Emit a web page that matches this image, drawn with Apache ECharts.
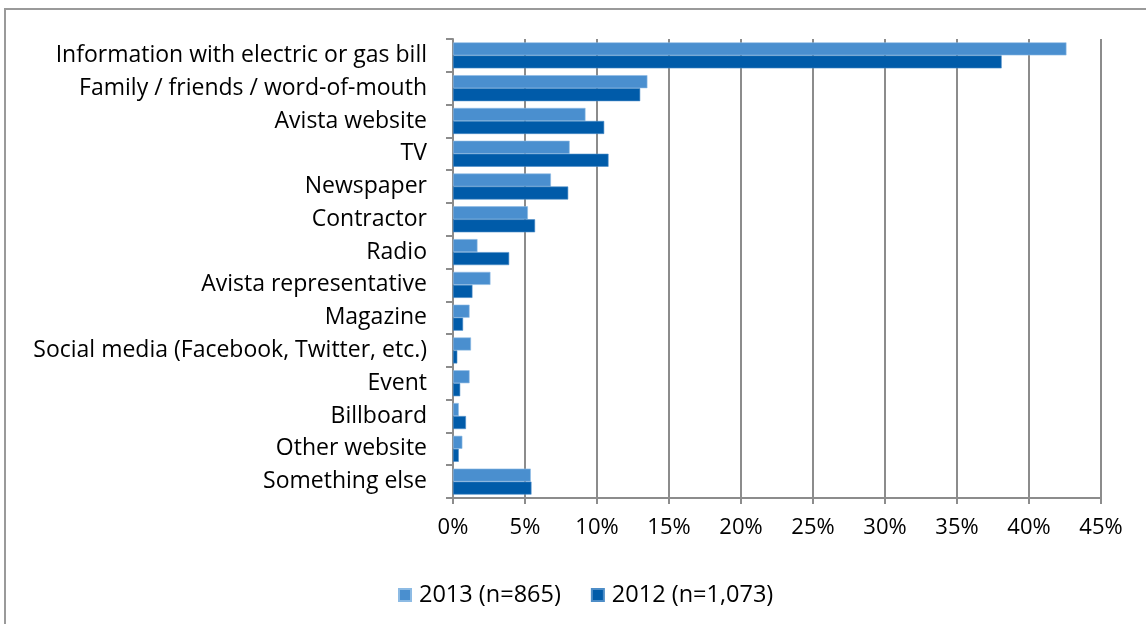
<!DOCTYPE html>
<html>
<head>
<meta charset="utf-8">
<script src="https://cdn.jsdelivr.net/npm/echarts@6/dist/echarts.min.js"></script>
<style>
  html, body { margin: 0; padding: 0; background: #fff; }
  #chart { width: 1146px; height: 624px; }
</style>
</head>
<body>
<div id="chart"></div>
<script>
// Where respondents heard about the program, share of respondents by survey year
const categories = [
  'Information with electric or gas bill',
  'Family / friends / word-of-mouth',
  'Avista website',
  'TV',
  'Newspaper',
  'Contractor',
  'Radio',
  'Avista representative',
  'Magazine',
  'Social media (Facebook, Twitter, etc.)',
  'Event',
  'Billboard',
  'Other website',
  'Something else'
];
const values2013 = [42.6, 13.5, 9.2, 8.1, 6.8, 5.2, 1.7, 2.6, 1.15, 1.25, 1.15, 0.4, 0.65, 5.4];
const values2012 = [38.1, 13.0, 10.5, 10.8, 8.0, 5.7, 3.9, 1.35, 0.7, 0.3, 0.5, 0.9, 0.4, 5.45];
const seriesNames = ['2013 (n=865)', '2012 (n=1,073)'];
const xTicks = { min: 0, max: 45, interval: 5 };

const FONT = '"Open Sans", sans-serif';
const chart = echarts.init(document.getElementById('chart'), null, { renderer: 'canvas' });

chart.setOption({
  animation: false,
  backgroundColor: '#ffffff',
  textStyle: { fontFamily: FONT, color: '#000' },
  graphic: [{
    type: 'rect',
    shape: { x: 5, y: 9, width: 1400, height: 900 },
    style: { fill: 'none', stroke: '#9a9a9a', lineWidth: 2 },
    silent: true
  }],
  grid: { left: 453, right: 45, top: 39, bottom: 126, containLabel: false },
  legend: {
    top: 578,
    left: 393,
    itemWidth: 12,
    itemHeight: 12,
    itemGap: 30,
    icon: 'rect',
    textStyle: { fontFamily: FONT, fontSize: 23.5, color: '#000', padding: [0, 0, 0, 3] },
    data: seriesNames
  },
  xAxis: {
    type: 'value',
    min: xTicks.min,
    max: xTicks.max,
    interval: xTicks.interval,
    axisLine: { show: true, lineStyle: { color: '#8c8c8c', width: 2 } },
    axisTick: { show: true, length: 6, lineStyle: { color: '#8c8c8c', width: 2 } },
    splitLine: { show: true, lineStyle: { color: '#8c8c8c', width: 2 } },
    axisLabel: { formatter: '{value}%', fontSize: 22, color: '#000', margin: 19, fontFamily: FONT }
  },
  yAxis: {
    type: 'category',
    inverse: true,
    data: categories,
    axisLine: { show: true, lineStyle: { color: '#8c8c8c', width: 2 } },
    axisTick: { show: true, length: 7, lineStyle: { color: '#8c8c8c', width: 2 } },
    axisLabel: { fontSize: 23, color: '#000', margin: 26, fontFamily: FONT }
  },
  series: [
    {
      name: seriesNames[0],
      type: 'bar',
      data: values2013,
      barWidth: 13,
      barGap: '0%',
      barCategoryGap: '20%',
      itemStyle: { color: '#4a8fcf', borderColor: '#8dbbe4', borderWidth: 0.6 }
    },
    {
      name: seriesNames[1],
      type: 'bar',
      data: values2012,
      barWidth: 13,
      barGap: '0%',
      itemStyle: { color: '#005ba9', borderColor: '#4d8dc7', borderWidth: 0.6 }
    }
  ]
});
</script>
</body>
</html>
